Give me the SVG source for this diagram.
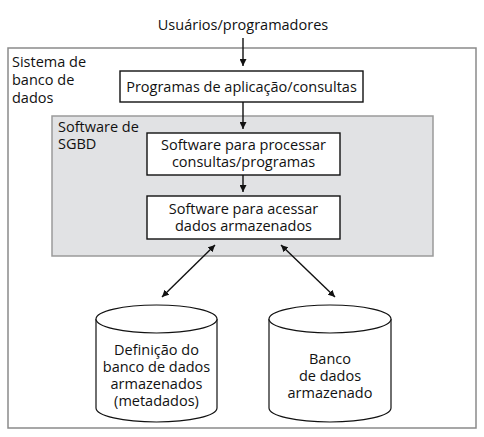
<svg xmlns="http://www.w3.org/2000/svg" width="484" height="437" viewBox="0 0 484 437">
<style>
text{font-family:"Open Sans","Noto Sans","Liberation Sans",sans-serif;font-size:14.5px;fill:#111}
.c{text-anchor:middle}
.box{fill:#fff;stroke:#111;stroke-width:1.4}
.cyl{fill:#fff;stroke:#111;stroke-width:1.2}
.ln{stroke:#111;stroke-width:1.4;fill:none}
</style>
<defs>
<marker id="ah" viewBox="0 0 10 10" refX="10" refY="5" markerWidth="7" markerHeight="7" markerUnits="userSpaceOnUse" orient="auto-start-reverse">
<path d="M0,0 L10,5 L0,10 z" fill="#111"/>
</marker>
</defs>
<rect width="484" height="437" fill="#fff"/>
<g id="sistema">
<rect x="8" y="48" width="468" height="380" fill="none" stroke="#8a8a8a" stroke-width="1.5"/>
<text x="12" y="67">Sistema de</text>
<text x="12" y="85">banco de</text>
<text x="12" y="103">dados</text>
</g>
<g id="sgbd">
<rect x="52" y="116" width="381" height="140" fill="#e1e2e4" stroke="#9a9a9a" stroke-width="1.5"/>
<text x="58" y="132">Software de</text>
<text x="58" y="149">SGBD</text>
</g>
<g id="usuarios">
<text class="c" x="243" y="30">Usuários/programadores</text>
</g>
<g id="programas">
<rect class="box" x="120" y="71" width="243" height="31"/>
<text class="c" x="241.5" y="92">Programas de aplicação/consultas</text>
</g>
<g id="processar">
<rect class="box" x="147" y="133" width="193" height="42"/>
<text class="c" x="243.5" y="150">Software para processar</text>
<text class="c" x="243.5" y="167">consultas/programas</text>
</g>
<g id="acessar">
<rect class="box" x="147" y="196" width="193" height="43"/>
<text class="c" x="243.5" y="214">Software para acessar</text>
<text class="c" x="243.5" y="231">dados armazenados</text>
</g>
<g id="metadados">
<path class="cyl" d="M96,319 L96,408 A60.5,14 0 0 0 217,408 L217,319 A60.5,14 0 0 0 96,319 Z"/>
<path class="cyl" d="M96,319 A60.5,14 0 0 0 217,319"/>
<text class="c" x="156.5" y="355">Definição do</text>
<text class="c" x="156.5" y="372">banco de dados</text>
<text class="c" x="156.5" y="389">armazenados</text>
<text class="c" x="156.5" y="406">(metadados)</text>
</g>
<g id="banco">
<path class="cyl" d="M269,319 L269,408 A61,14 0 0 0 391,408 L391,319 A61,14 0 0 0 269,319 Z"/>
<path class="cyl" d="M269,319 A61,14 0 0 0 391,319"/>
<text class="c" x="330" y="364">Banco</text>
<text class="c" x="330" y="381">de dados</text>
<text class="c" x="330" y="398">armazenado</text>
</g>
<g id="connectors">
<line class="ln" x1="243" y1="38" x2="243" y2="66" marker-end="url(#ah)"/>
<line class="ln" x1="243" y1="102" x2="243" y2="129" marker-end="url(#ah)"/>
<line class="ln" x1="243" y1="175" x2="243" y2="192" marker-end="url(#ah)"/>
<line class="ln" x1="215" y1="245" x2="162" y2="297" marker-start="url(#ah)" marker-end="url(#ah)"/>
<line class="ln" x1="281" y1="245" x2="335" y2="297" marker-start="url(#ah)" marker-end="url(#ah)"/>
</g>
</svg>
